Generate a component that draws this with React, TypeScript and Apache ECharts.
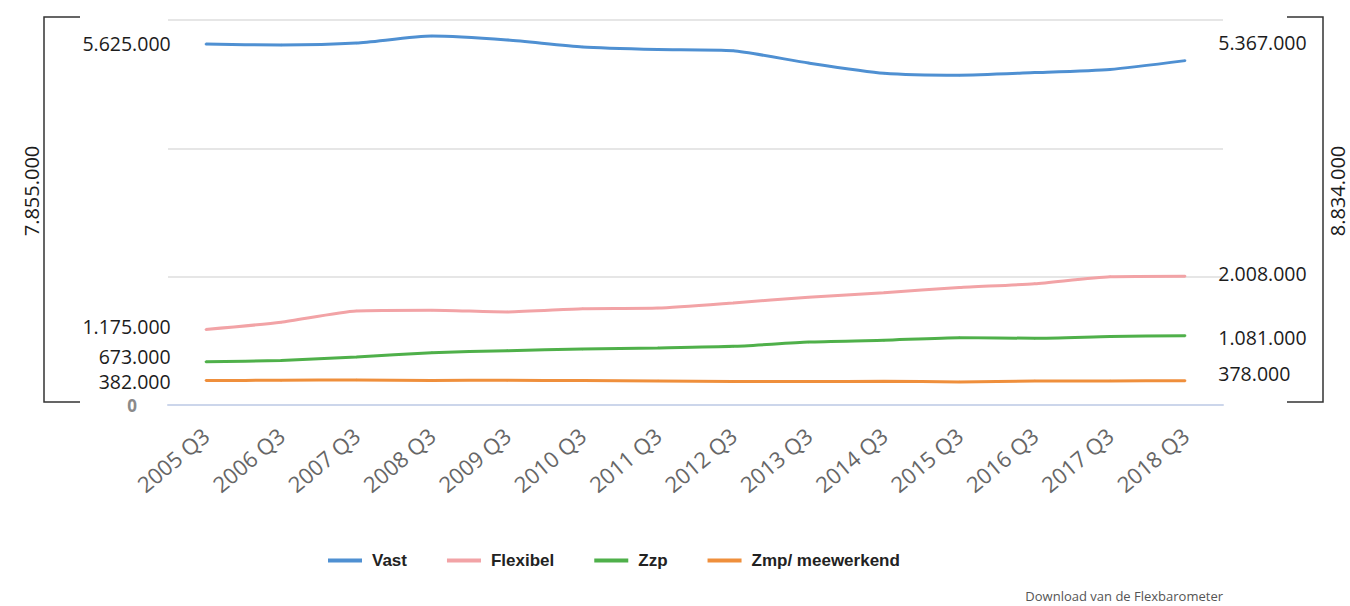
import React, { useEffect, useRef } from "react";
import * as echarts from "echarts";

// Werkenden naar type arbeidsrelatie, derde kwartaal per jaar
const categories = [
  "2005 Q3", "2006 Q3", "2007 Q3", "2008 Q3", "2009 Q3", "2010 Q3", "2011 Q3",
  "2012 Q3", "2013 Q3", "2014 Q3", "2015 Q3", "2016 Q3", "2017 Q3", "2018 Q3",
];

const vast = [5625000, 5610000, 5640000, 5750000, 5690000, 5580000, 5540000, 5520000, 5330000, 5170000, 5140000, 5180000, 5230000, 5367000];
const flexibel = [1175000, 1290000, 1466000, 1477000, 1450000, 1500000, 1510000, 1590000, 1680000, 1750000, 1830000, 1890000, 2000000, 2008000];
const zzp = [673000, 695000, 747000, 815000, 846000, 872000, 890000, 914000, 980000, 1008000, 1050000, 1040000, 1066000, 1081000];
const zmp = [382000, 385000, 390000, 383000, 385000, 380000, 375000, 365000, 365000, 370000, 360000, 375000, 375000, 378000];

const seriesNames = ["Vast", "Flexibel", "Zzp", "Zmp/ meewerkend"];
const seriesColors = ["#4f90d2", "#f2a3a6", "#4fb04a", "#ef8f3c"];
const seriesValues = [vast, flexibel, zzp, zmp];

// vertical nudges of the start / end value labels, in px
const startOffsets = [-1, -3.5, -5, 1];
const endOffsets = [-18.5, -3, 1.5, -7.5];

const fmt = (v: number) => Math.round(v).toString().replace(/\B(?=(\d{3})+(?!\d))/g, ".");

const sumAt = (i: number) => seriesValues.reduce((s, arr) => s + arr[i], 0);

const valueFont = "'Open Sans', 'Noto Sans', sans-serif";

export default function App() {
  const ref = useRef<HTMLDivElement>(null);

  useEffect(() => {
    if (!ref.current) return;
    const chart = echarts.init(ref.current, undefined, { renderer: "svg" });
    const last = categories.length - 1;

    const series = seriesValues.map((vals, si) => ({
      name: seriesNames[si],
      type: "line",
      smooth: 0.2,
      showSymbol: true,
      showAllSymbol: true,
      symbol: "circle",
      symbolSize: 2,
      lineStyle: { width: 3, color: seriesColors[si] },
      itemStyle: { color: seriesColors[si] },
      emphasis: { disabled: true },
      data: vals.map((v, i) => {
        if (i === 0 || i === last) {
          const isStart = i === 0;
          return {
            value: v,
            label: {
              show: true,
              position: isStart ? "left" : "right",
              distance: isStart ? 34 : 32,
              offset: [0, isStart ? startOffsets[si] : endOffsets[si]],
              formatter: (p: any) => fmt(p.value),
              fontFamily: valueFont,
              fontSize: 19.5,
              lineHeight: 16,
              color: "#1c1c1c",
            },
          };
        }
        return v;
      }),
    }));

    chart.setOption({
      animation: false,
      backgroundColor: "#ffffff",
      grid: { left: 168, right: 127, top: 20, height: 385 },
      legend: {
        left: 323,
        top: 547,
        icon: "rect",
        itemWidth: 34,
        itemHeight: 4,
        itemGap: 40,
        textStyle: {
          fontFamily: "'Liberation Sans', Arial, sans-serif",
          fontWeight: "bold",
          fontSize: 17,
          color: "#222",
          padding: [0, 0, 0, 5],
        },
        data: seriesNames,
      },
      xAxis: {
        type: "category",
        data: categories,
        boundaryGap: true,
        axisLine: { lineStyle: { color: "#ccd6eb", width: 2 } },
        axisTick: { length: 20, lineStyle: { color: "#ccd6eb", width: 1.5 } },
        axisLabel: {
          rotate: 40,
          margin: 27,
          fontFamily: valueFont,
          fontSize: 22,
          color: "#666",
        },
        splitLine: { show: false },
      },
      yAxis: {
        type: "value",
        min: 0,
        max: 6000000,
        interval: 2000000,
        axisLine: { show: false },
        axisTick: { show: false },
        axisLabel: {
          margin: 31,
          formatter: (v: number) => (v === 0 ? "0" : ""),
          fontFamily: valueFont,
          fontSize: 17,
          lineHeight: 14,
          padding: [4, 0, 0, 0],
          fontWeight: "bold",
          color: "#8a8a8a",
        },
        splitLine: { lineStyle: { color: "#e6e6e6", width: 2 } },
      },
      series,
      graphic: [
        {
          type: "polyline",
          shape: { points: [[80, 17], [44, 17], [44, 402], [80, 402]] },
          style: { stroke: "#333", lineWidth: 1.5, fill: null },
        },
        {
          type: "polyline",
          shape: { points: [[1287, 17], [1323, 17], [1323, 402], [1287, 402]] },
          style: { stroke: "#333", lineWidth: 1.5, fill: null },
        },
        {
          type: "text",
          x: 31,
          y: 191,
          rotation: Math.PI / 2,
          style: {
            text: fmt(sumAt(0)),
            fontFamily: valueFont,
            fontSize: 20,
            fill: "#1c1c1c",
            align: "center",
            verticalAlign: "middle",
          },
        },
        {
          type: "text",
          x: 1337,
          y: 191,
          rotation: Math.PI / 2,
          style: {
            text: fmt(sumAt(last)),
            fontFamily: valueFont,
            fontSize: 20,
            fill: "#1c1c1c",
            align: "center",
            verticalAlign: "middle",
          },
        },
        {
          type: "text",
          x: 1223,
          y: 596,
          style: {
            text: "Download van de Flexbarometer",
            fontFamily: valueFont,
            fontSize: 13,
            fill: "#555",
            align: "right",
            verticalAlign: "middle",
          },
        },
      ],
    });

    return () => chart.dispose();
  }, []);

  return (
    <div
      ref={ref}
      style={{ position: "fixed", left: 0, top: 0, width: 1350, height: 606 }}
    />
  );
}
